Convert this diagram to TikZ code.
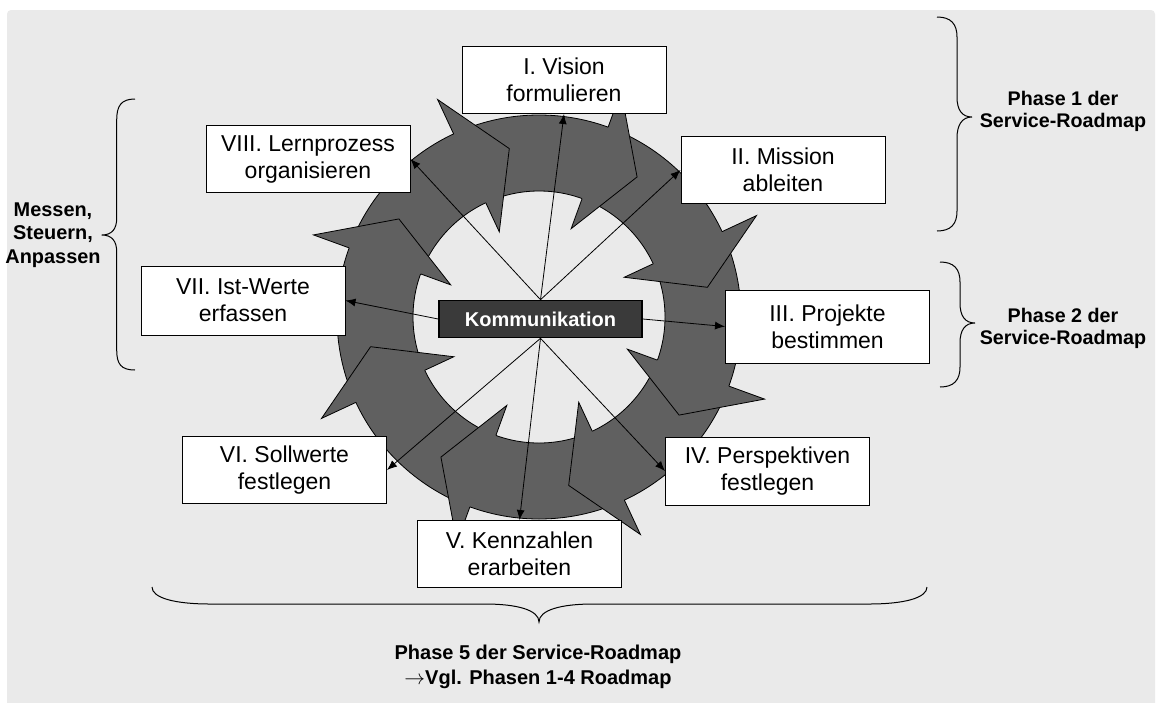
\documentclass[tikz,border=0pt]{standalone}
\usepackage{fontspec}
\setmainfont{Liberation Sans}
\usetikzlibrary{calc,arrows.meta}
\definecolor{bggray}{RGB}{234,234,234}
\definecolor{ringgray}{RGB}{96,96,96}
\definecolor{kgray}{RGB}{58,58,58}
\tikzset{
  stepbox/.style={draw=black, line width=1pt, fill=white, minimum width=204pt,
    minimum height=67pt, inner sep=0pt, align=center,
    font=\fontsize{23}{27}\selectfont},
  kbox/.style={draw=black, line width=1.6pt, fill=kgray, text=white,
    minimum width=203pt, minimum height=37pt, inner sep=0pt,
    font=\fontsize{20}{24}\selectfont\bfseries},
  conn/.style={draw=black, line width=0.8pt, -{Latex[length=10pt,width=8pt]}},
  ringline/.style={draw=black, line width=0.8pt},
  bracepath/.style={draw=black, line width=1pt},
  phaselabel/.style={align=center, inner sep=0pt, font=\fontsize{19.7}{22}\selectfont\bfseries}
}
\begin{document}
\begin{tikzpicture}[x=1pt,y=1pt]
\useasboundingbox (0,0) rectangle (1158,-702);
\fill[bggray, rounded corners=4pt] (7,-10) rectangle (1155,-710);

% ring of circular arrows
\coordinate (C) at (539,-317);
\fill[ringgray, even odd rule] (C) circle[radius=202] (C) circle[radius=126];
\draw[ringline] (C) circle[radius=202];
\draw[ringline] (C) circle[radius=126];
\foreach \t in {160,115,70,25,-20,-65,-110,-155}{
  \fill[ringgray] ($(C)+(\t:240)$) -- ($(C)+({\t-15}:171)$) -- ($(C)+(\t:94)$) -- cycle;
  \draw[ringline, line join=miter] ($(C)+(\t:202)$) -- ($(C)+(\t:240)$) -- ($(C)+({\t-15}:171)$) -- ($(C)+(\t:94)$) -- ($(C)+(\t:126)$);
}

% boxes
\node[stepbox] (I) at (564,-80) {I. Vision\\formulieren};
\node[stepbox] (II) at (783,-170) {II. Mission\\ableiten};
\node[stepbox, minimum height=73pt] (III) at (827.5,-326.5) {III. Projekte\\bestimmen};
\node[stepbox, minimum height=68pt] (IV) at (767.5,-471) {IV. Perspektiven\\festlegen};
\node[stepbox] (V) at (519.5,-554) {V. Kennzahlen\\erarbeiten};
\node[stepbox] (VI) at (284.5,-470) {VI. Sollwerte\\festlegen};
\node[stepbox, minimum height=69pt] (VII) at (243,-300.5) {VII. Ist-Werte\\erfassen};
\node[stepbox] (VIII) at (308,-159) {VIII. Lernprozess\\organisieren};
\node[kbox] (K) at (540.5,-319) {Kommunikation};

% connectors
\draw[conn] (K.north) -- (VIII.east);
\draw[conn] (K.north) -- (I.south);
\draw[conn] (K.north) -- (II.west);
\draw[conn] (K.west) -- (VII.east);
\draw[conn] (K.east) -- (III.west);
\draw[conn] (K.south) -- (VI.east);
\draw[conn] (K.south) -- (V.north);
\draw[conn] (K.south) -- (IV.west);

% braces
\draw[bracepath] (937,-17) .. controls (951,-17) and (957,-24) .. (957,-37)
  -- (957,-97) .. controls (957,-110) and (962,-117) .. (972,-117)
  .. controls (962,-117) and (957,-125) .. (957,-138)
  -- (957,-211) .. controls (957,-224) and (951,-231) .. (937,-231);
\draw[bracepath] (940,-262) .. controls (954,-262) and (960,-269) .. (960,-282)
  -- (960,-303) .. controls (960,-316) and (965,-323) .. (975,-323)
  .. controls (965,-323) and (960,-330) .. (960,-343)
  -- (960,-367) .. controls (960,-380) and (954,-387) .. (940,-387);
\draw[bracepath] (135,-99) .. controls (121,-99) and (116.7,-106) .. (116.7,-120)
  -- (116.7,-218) .. controls (116.7,-229) and (112,-235) .. (101.7,-235)
  .. controls (112,-235) and (116.7,-241) .. (116.7,-252)
  -- (116.7,-350) .. controls (116.7,-364) and (121,-370) .. (135,-370);
\draw[bracepath] (152,-587) .. controls (152,-598) and (175,-604) .. (210,-604)
  -- (485,-604) .. controls (517,-604) and (539,-610) .. (539,-622)
  .. controls (539,-610) and (561,-604) .. (593,-604)
  -- (869,-604) .. controls (904,-604) and (927,-598) .. (927,-587);

% labels
\node[phaselabel] (p1) at (1063,-111) {Phase 1 der\\Service-Roadmap};
\node[phaselabel] (p2) at (1063,-328) {Phase 2 der\\Service-Roadmap};
\node[phaselabel, font=\fontsize{19.9}{23.3}\selectfont\bfseries] (msa) at (53,-235) {Messen,\\Steuern,\\Anpassen};
\node[phaselabel, font=\fontsize{20}{25}\selectfont\bfseries] (p5) at (538,-667) {Phase 5 der Service-Roadmap\\$\rightarrow$Vgl. Phasen 1-4 Roadmap};
\end{tikzpicture}
\end{document}
